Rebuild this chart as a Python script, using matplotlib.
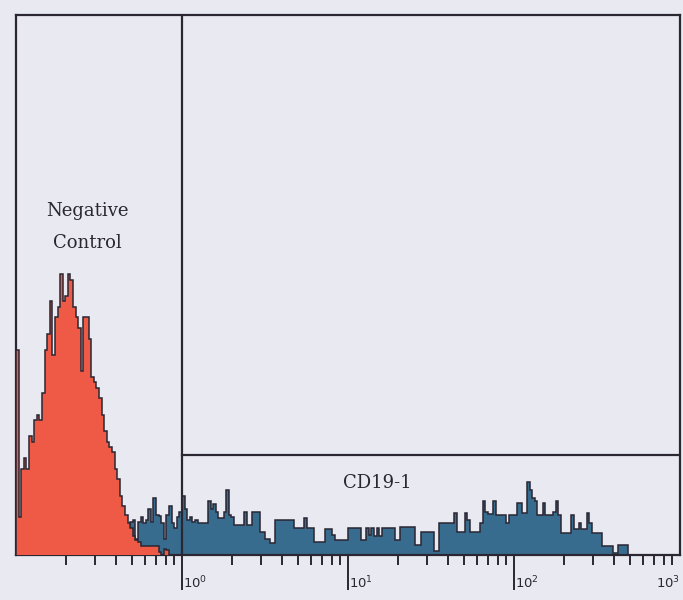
import numpy as np
import matplotlib

matplotlib.use("Agg")
import matplotlib.pyplot as plt
from matplotlib.ticker import FixedLocator, NullFormatter

# Channel counts, 64 channels per decade from 10^-1 to 10^3
red_start = 0
red_counts = [
    38, 7, 16, 18, 16, 22, 21, 25, 26, 25,
    30, 38, 41, 47, 37, 44, 46, 52, 47, 48,
    52, 51, 46, 44, 42, 34, 44, 44, 40, 33,
    32, 31, 29, 26, 23, 21, 20, 19, 16, 14,
    11, 9, 7.5, 6, 5, 3.5, 2.8, 2.5, 1.7, 1.7,
    1.7, 1.7, 1.7, 1.7, 1.7, 0.5, 0, 1.2, 1.0,
]

blue_start = 43
blue_counts = [
    5.5, 6.2, 6.5, 3, 6.2, 7, 6, 6.5,
    8.6, 6.2, 10.5, 7.5, 7.2, 6, 3, 7.5, 9, 6,
    5, 7, 8, 11, 8.5, 6.5, 7, 6.2, 6.5, 5.9,
    5.9, 5.9, 6, 10, 8.5, 9.5, 8, 6.8, 6.8, 8,
    12, 7.4, 7, 5.6, 5.6, 5.6, 5.6, 8, 5.6, 5.6,
    8, 8, 8, 4.3, 4.3, 3, 3, 2.2, 2.2, 6.5,
    6.5, 6.5, 6.5, 6.5, 6.5, 6.5, 5, 5, 5, 5,
    6.8, 5, 5, 5, 2.5, 2.5, 2.5, 2.5, 4.8, 4.8,
    4.8, 3.7, 2.8, 2.8, 2.8, 2.8, 2.8, 5, 5, 5,
    5, 5, 2.8, 2.8, 5, 3.7, 5, 3.5, 5, 3.5,
    5, 5, 5, 5, 5, 2.8, 2.8, 5.2, 5.2, 5.2,
    5.2, 5.2, 5.2, 1.9, 1.9, 4.2, 4.2, 4.2, 4.2, 4.2,
    0.8, 0.8, 6, 6, 6, 6, 6, 6, 7.8, 4.2,
    4.2, 4.2, 7.8, 6.5, 4.2, 4.2, 4.2, 4.2, 6, 10,
    8, 7.6, 7.6, 10, 7.5, 7.5, 7.5, 7.5, 6, 7.5,
    7.5, 7.5, 9.7, 9.7, 7.8, 7.8, 13.5, 12, 10.6, 10,
    7.5, 7.5, 9.7, 7.5, 7.5, 7.5, 8, 10, 7.5, 4,
    4, 4, 4, 7.5, 4.8, 4.8, 6, 4.8, 4.8, 7.8,
    6, 4, 4, 4, 4, 1.7, 1.7, 1.7, 1.7, 0.4,
    0.4, 1.9, 1.9, 1.9, 1.9,
]

gate_level = 18.5
major_ticks = [1, 10, 100]
tick_labels = ["$10^{0}$", "$10^{1}$", "$10^{2}$", "$10^{3}$"]
label_neg = ["Negative", "Control"]
label_gate = "CD19-1"

bg = "#e9eaf1"
ink = "#2a2632"
red = "#ee5a45"
blue = "#386c8e"

edges = np.logspace(-1, 3, 257)

fig = plt.figure(figsize=(6.83, 6.0), dpi=100, facecolor=bg)
ax = fig.add_axes([16 / 683, 45 / 600, 664 / 683, 540 / 600])
ax.set_facecolor(bg)
ax.set_xscale("log")
ax.set_xlim(0.1, 1000)
ax.set_ylim(0, 100)

# Histograms: blue first, red on top
b_edges = edges[blue_start:blue_start + len(blue_counts) + 1]
ax.stairs(blue_counts, b_edges, fill=True, color=blue, zorder=2)
ax.stairs(blue_counts, b_edges, color=ink, linewidth=1.1, zorder=3)

r_edges = edges[red_start:red_start + len(red_counts) + 1]
ax.stairs(red_counts, r_edges, fill=True, color=red, zorder=4)
ax.stairs(red_counts, r_edges, color=ink, linewidth=1.1, zorder=5)

# Gate lines
ax.axvline(1, color=ink, linewidth=1.6, zorder=6)
ax.plot([1, 1000], [gate_level, gate_level], color=ink, linewidth=1.6, zorder=6)

# Frame
for side in ["left", "right", "top", "bottom"]:
    ax.spines[side].set_color(ink)
    ax.spines[side].set_linewidth(1.6)

# Ticks
ax.yaxis.set_visible(False)
ax.xaxis.set_major_locator(FixedLocator(major_ticks))
minor = [m * 10.0 ** k for k in range(-1, 3) for m in range(2, 10)]
ax.xaxis.set_minor_locator(FixedLocator(minor))
ax.xaxis.set_major_formatter(NullFormatter())
ax.xaxis.set_minor_formatter(NullFormatter())
ax.tick_params(axis="x", which="major", direction="out", length=25, width=1.4, color=ink)
ax.tick_params(axis="x", which="minor", direction="out", length=7, width=1.4, color=ink)

xt = ax.get_xaxis_transform()
for pos, lab in zip(major_ticks, tick_labels[:3]):
    ax.text(pos * 1.01, -0.062, lab, transform=xt, ha="left", va="baseline",
            fontsize=9.5, color=ink)
ax.text(1000, -0.062, tick_labels[3], transform=xt, ha="right", va="baseline",
        fontsize=9.5, color=ink)

# Labels
ax.text(0.27, 62.8, label_neg[0], ha="center", va="baseline", fontsize=13,
        family="DejaVu Serif", color=ink)
ax.text(0.27, 56.9, label_neg[1], ha="center", va="baseline", fontsize=13,
        family="DejaVu Serif", color=ink)
ax.text(15, 12.4, label_gate, ha="center", va="baseline", fontsize=13,
        family="DejaVu Serif", color=ink)

fig.savefig("out.png", dpi=100, facecolor=bg)
